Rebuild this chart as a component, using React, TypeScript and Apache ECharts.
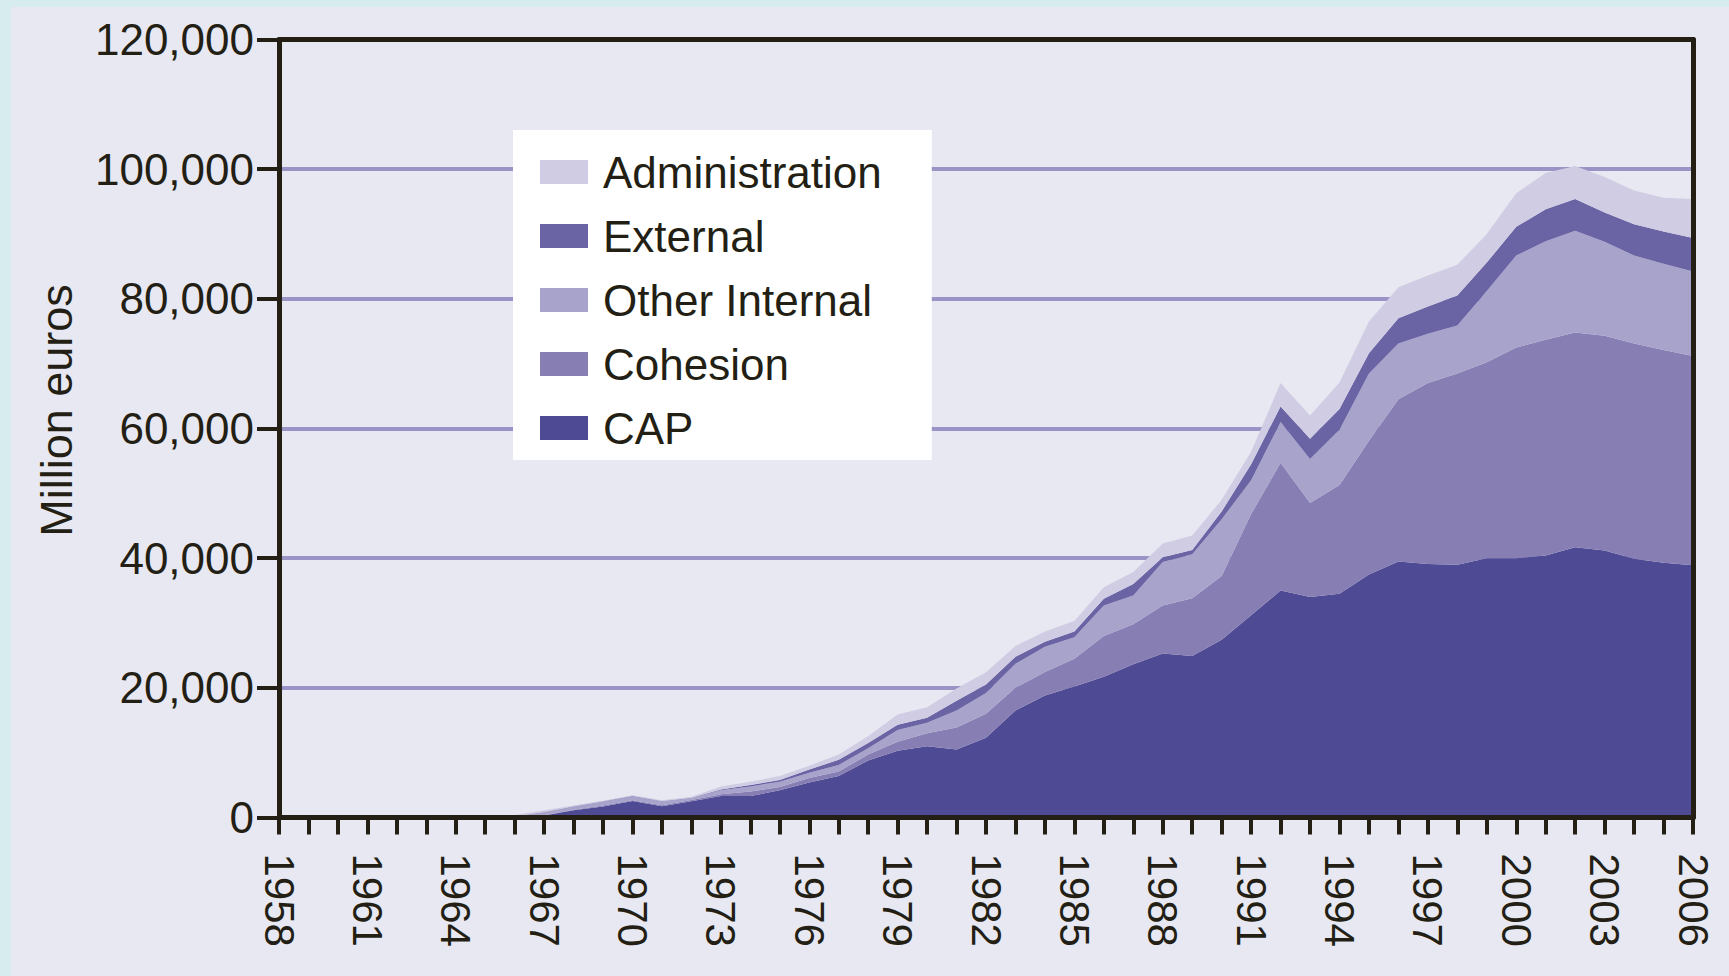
import React, { useEffect, useRef } from "react";
import * as echarts from "echarts";

const years = [
  "1958", "1959", "1960", "1961", "1962", "1963", "1964", "1965", "1966", "1967",
  "1968", "1969", "1970", "1971", "1972", "1973", "1974", "1975", "1976", "1977",
  "1978", "1979", "1980", "1981", "1982", "1983", "1984", "1985", "1986", "1987",
  "1988", "1989", "1990", "1991", "1992", "1993", "1994", "1995", "1996", "1997",
  "1998", "1999", "2000", "2001", "2002", "2003", "2004", "2005", "2006",
];

// Million euros, per year 1958..2006
const cap = [
  0, 0, 0, 0, 0, 0, 0, 0, 0, 300,
  1100, 1700, 2550, 1750, 2500, 3300, 3300, 4200, 5400, 6400,
  8800, 10300, 11000, 10500, 12300, 16500, 18800, 20200, 21700, 23650,
  25300, 24900, 27400, 31200, 35000, 34000, 34500, 37500, 39500, 39100,
  39000, 40000, 40000, 40400, 41700, 41200, 39900, 39300, 38900,
];
const cohesion = [
  0, 0, 0, 0, 0, 0, 0, 0, 0, 50,
  100, 150, 100, 150, 200, 300, 700, 500, 700, 700,
  900, 1400, 2000, 3400, 3700, 3500, 3650, 4300, 6300, 6150,
  7400, 8900, 9850, 15600, 19700, 14500, 16800, 20600, 25000, 27900,
  29500, 30200, 32500, 33300, 33100, 33100, 33200, 32800, 32300,
];
const otherInternal = [
  0, 0, 0, 0, 0, 0, 0, 0, 200, 450,
  500, 600, 650, 600, 300, 600, 800, 800, 800, 1000,
  1000, 1800, 1600, 2600, 3200, 3700, 3900, 3300, 4700, 4450,
  6700, 6800, 8750, 5200, 6300, 6800, 8500, 10400, 8600, 7600,
  7400, 11000, 14200, 15200, 15700, 14500, 13600, 13300, 13000,
];
const external = [
  0, 0, 0, 0, 0, 0, 0, 0, 0, 50,
  50, 50, 50, 50, 50, 100, 200, 300, 500, 800,
  800, 800, 800, 1500, 1300, 1100, 750, 900, 1050, 1750,
  750, 650, 1200, 2500, 2400, 3100, 3200, 3100, 3900, 4200,
  4600, 4400, 4400, 4900, 4900, 4500, 4800, 5000, 5200,
];
const administration = [
  40, 50, 60, 80, 90, 100, 110, 120, 200, 250,
  100, 100, 100, 100, 150, 500, 500, 600, 600, 800,
  1050, 1600, 1600, 1900, 1900, 1650, 1600, 1600, 1750, 1850,
  2100, 2250, 1800, 1900, 3600, 3600, 4100, 4900, 4800, 4800,
  4750, 4400, 5200, 5600, 5100, 5500, 5200, 5200, 6000,
];

const seriesNames = ["CAP", "Cohesion", "Other Internal", "External", "Administration"];
const seriesColors = ["#4e4a93", "#877fb4", "#a8a3cb", "#6a63a4", "#cfcce3"];
const legendOrder = ["Administration", "External", "Other Internal", "Cohesion", "CAP"];

const FONT = "'Liberation Sans', Arial, sans-serif";
const DARK = "#231f14";

export default function App() {
  const ref = useRef<HTMLDivElement>(null);

  useEffect(() => {
    document.body.style.margin = "0";
    const chart = echarts.init(ref.current!, null, { renderer: "svg" });
    const datasets = [cap, cohesion, otherInternal, external, administration];
    const series = seriesNames.map((name, i) => ({
      name,
      type: "line",
      stack: "total",
      data: datasets[i],
      symbol: "none",
      showSymbol: false,
      silent: true,
      lineStyle: { width: 0, color: seriesColors[i] },
      itemStyle: { color: seriesColors[i] },
      areaStyle: { color: seriesColors[i], opacity: 1 },
      emphasis: { disabled: true },
      z: 2,
    }));

    const frameLine = () => ({ show: true, onZero: false, lineStyle: { color: DARK, width: 5 } });

    chart.setOption({
      animation: false,
      backgroundColor: "#e8e8f2",
      textStyle: { fontFamily: FONT },
      grid: { left: 268, top: 32.5, right: 36, bottom: 158.5, containLabel: false },
      legend: {
        data: legendOrder,
        orient: "vertical",
        left: 502,
        top: 123,
        backgroundColor: "#ffffff",
        padding: [20, 50, 10, 27],
        itemWidth: 48,
        itemHeight: 24,
        itemGap: 20,
        icon: "rect",
        selectedMode: false,
        textStyle: { fontSize: 44, color: DARK, fontFamily: FONT, padding: [0, 0, 0, 10] },
        z: 20,
      },
      xAxis: [
        {
          type: "category",
          data: years,
          boundaryGap: false,
          z: 10,
          axisLine: frameLine(),
          axisTick: { show: true, interval: 0, length: 17, lineStyle: { color: DARK, width: 4 } },
          axisLabel: {
            interval: 2,
            rotate: -90,
            margin: 36,
            fontSize: 42,
            color: DARK,
            fontFamily: FONT,
          },
          splitLine: { show: false },
        },
        {
          type: "category",
          data: years,
          boundaryGap: false,
          position: "top",
          z: 10,
          axisLine: frameLine(),
          axisTick: { show: false },
          axisLabel: { show: false },
          splitLine: { show: false },
        },
      ],
      yAxis: [
        {
          type: "value",
          min: 0,
          max: 120000,
          interval: 20000,
          name: "Million euros",
          nameLocation: "middle",
          nameRotate: 90,
          nameGap: 200,
          nameTextStyle: { fontSize: 45, color: DARK, fontFamily: FONT, padding: [0, 0, 0, 36] },
          axisLine: frameLine(),
          axisTick: { show: true, length: 22, lineStyle: { color: DARK, width: 4 } },
          axisLabel: {
            fontSize: 44,
            color: DARK,
            margin: 25,
            fontFamily: FONT,
            formatter: (v: number) => v.toLocaleString("en-US"),
          },
          splitLine: { show: true, showMaxLine: false, lineStyle: { color: "#9a94c6", width: 4 } },
        },
        {
          type: "value",
          min: 0,
          max: 120000,
          interval: 20000,
          position: "right",
          z: 10,
          axisLine: frameLine(),
          axisTick: { show: false },
          axisLabel: { show: false },
          splitLine: { show: false },
        },
      ],
      series,
    });
    return () => chart.dispose();
  }, []);

  return (
    <div
      style={{
        position: "relative",
        width: 1729,
        height: 976,
        background: "#d6ecee",
        overflow: "hidden",
      }}
    >
      <div ref={ref} style={{ position: "absolute", left: 11, top: 7, width: 1718, height: 969 }} />
    </div>
  );
}
